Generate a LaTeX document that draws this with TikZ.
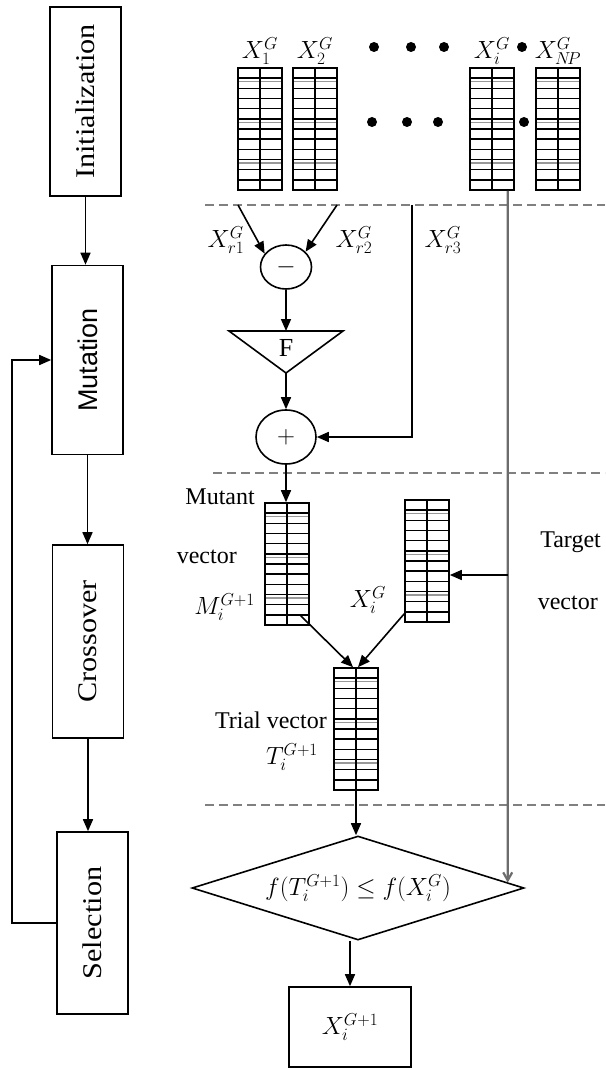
\documentclass[tikz,border=0pt]{standalone}
\usepackage{fontspec}
\setmainfont{Liberation Serif}
\newfontfamily\stagesans{Liberation Sans}
\usetikzlibrary{calc, arrows.meta, positioning, shapes.geometric}

\begin{document}
\begin{tikzpicture}[x=1pt, y=-1pt,
    stage/.style={draw, line width=1.6pt, rotate=90, inner sep=0pt, minimum height=71pt,
      font=\fontsize{27}{29}\selectfont},
    vec/.style={draw, line width=1.6pt, inner sep=0pt, minimum width=44pt, minimum height=122pt,
      path picture={
        \foreach \k in {1,...,11}
          \draw[line width=1.4pt] ($(path picture bounding box.north west)!\k/12!(path picture bounding box.south west)$)
            -- ($(path picture bounding box.north east)!\k/12!(path picture bounding box.south east)$);
        \foreach \k in {1.35,5.35,9.35}
          \draw[gray!80, line width=1.4pt] ($(path picture bounding box.north west)!\k/12!(path picture bounding box.south west)$)
            -- ($(path picture bounding box.north east)!\k/12!(path picture bounding box.south east)$);
        \draw[line width=1.4pt] (path picture bounding box.north) -- (path picture bounding box.south);
      }},
    op/.style={draw, ellipse, line width=1.6pt, inner sep=0pt, font=\fontsize{30}{30}\selectfont},
    flow/.style={line width=1.6pt, -{Triangle[length=12pt, width=10pt]}},
    feed/.style={gray!85!black, line width=2.2pt, -{Straight Barb[length=8pt, width=9pt]}},
    sepline/.style={gray, line width=1.5pt, dash pattern=on 9pt off 5pt},
    lbl/.style={font=\fontsize{24}{26}\selectfont, inner sep=1pt},
    mlbl/.style={font=\fontsize{25}{27}\selectfont, inner sep=1pt},
  ]
  \useasboundingbox (0,0) rectangle (605,1070);

  % stages on the left
  \node[stage, minimum width=189pt] (init) at (85.5,101.5) {\scalebox{1.12}[1]{Initialization}};
  \node[stage, minimum width=189pt, font=\stagesans\fontsize{27}{29}\selectfont] (mut) at (87.5,360) {Mutation};
  \node[stage, minimum width=193pt] (cross) at (88,641.5) {\scalebox{1.12}[1]{Crossover}};
  \node[stage, minimum width=182pt] (sel) at (92.5,923) {\scalebox{1.12}[1]{Selection}};
  \draw[flow] (init.west) -- (init.west |- mut.east);
  \draw[flow] (mut.west) -- (mut.west |- cross.east);
  \draw[flow] (cross.west) -- (cross.west |- sel.east);
  \draw[flow] (sel.north) -- ++(-44,0) |- (mut.north);

  % population
  \foreach \n/\x in {x1/260, x2/315, xi/492, xnp/558}
    \node[vec] (\n) at (\x,129) {};
  \node[mlbl, above=1pt of x1] (lx1) {$X_1^G$};
  \node[mlbl, above=1pt of x2] (lx2) {$X_2^G$};
  \node[mlbl, above=1pt of xi] (lxi) {$X_i^G$};
  \node[mlbl, above=1pt of xnp] (lxnp) {$X_{N\!P}^G$};
  \foreach \x in {374,411,444,522}
    \fill (\x,47) circle[radius=5pt];
  \foreach \x in {372,407,438,524}
    \fill (\x,122) circle[radius=5pt];

  % separators
  \draw[sepline] (205,205) -- (605,205);
  \draw[sepline] (213,473) -- (605,473);
  \draw[sepline] (205,805) -- (605,805);

  % mutation
  \coordinate (r1) at (238,205);
  \coordinate (r2) at (337,205);
  \coordinate (r3) at (412,205);
  \node[op, minimum width=51pt, minimum height=44pt] (minus) at (286,267) {$-$};
  \node[op, minimum width=60pt, minimum height=54pt] (plus) at (286,437) {$+$};
  \draw[flow] (r1) -- (minus.148);
  \draw[flow] (r2) -- (minus.38);
  \node[mlbl] (lr1) at (226,240) {$X_{r1}^G$};
  \node[mlbl] (lr2) at (354,240) {$X_{r2}^G$};
  \node[mlbl] (lr3) at (443,240) {$X_{r3}^G$};
  \coordinate (fl) at (229,331);
  \coordinate (fr) at (343,331);
  \coordinate (fa) at (286,373);
  \draw[line width=1.6pt] (fl) -- (fr) -- (fa) -- cycle;
  \node[lbl, font=\fontsize{26}{28}\selectfont] (F) at (286,348) {F};
  \draw[flow] (minus) -- (minus |- fl);
  \draw[flow] (fa) -- (plus);
  \draw[flow] (r3) |- (plus);

  % crossover
  \node[vec] (mutant) at (287,564) {};
  \node[vec] (target) at (427,561) {};
  \node[vec] (trial) at (356,729) {};
  \draw[flow] (plus.south) -- (plus.south |- mutant.north);
  \node[lbl, anchor=east] (lmut) at (256,497) {Mutant};
  \node[lbl, anchor=east] (lmutv) at (238,557) {vector};
  \node[mlbl, anchor=east] (lm) at (256,607) {$M_i^{G+1}$};
  \node[mlbl] (lxt) at (368,600) {$X_i^G$};
  \node[lbl, anchor=east] (ltgt) at (602,542) {Target};
  \node[lbl, anchor=east] (ltgtv) at (599,603) {vector};
  \node[lbl, anchor=east] (ltr) at (328,720) {Trial vector};
  \node[mlbl] (lt) at (292,757) {$T_i^{G+1}$};
  \draw[flow] ($(mutant.south east)+(-9,-10)$) -- ($(trial.north)+(-3,0)$);
  \draw[flow] ($(target.south west)+(0,-9)$) -- ($(trial.north)+(2,0)$);

  % selection
  \node[diamond, draw, line width=1.6pt, inner sep=0pt, minimum width=332pt, minimum height=104pt] (dia) at (358,888) {};
  \node[mlbl] (crit) at (dia) {$f(T_i^{G+1}) \leq f(X_i^G)$};
  \draw[flow] (trial.south) -- (trial.south |- dia.north);
  \node[draw, line width=1.6pt, mlbl, minimum width=122pt, minimum height=80pt] (res) at (350,1027) {$X_i^{G+1}$};
  \draw[flow] (res.north |- dia.south) -- (res.north);

  % target vector path
  \coordinate (tg) at ($(xi.south east)+(-7,0)$);
  \draw[feed] (tg) -- ($(dia.north)!0.8976!(dia.east)$);
  \coordinate (tin) at ($(target.east)+(0,14)$);
  \draw[flow] (tg |- tin) -- (tin);
\end{tikzpicture}
\end{document}
